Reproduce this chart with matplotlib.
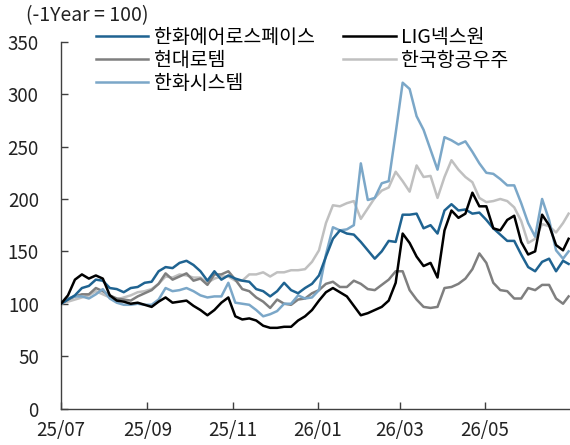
import matplotlib
matplotlib.use('Agg')
import matplotlib.pyplot as plt
import matplotlib.dates as mdates
import pandas as pd

plt.rcParams['font.family'] = ['Noto Sans CJK KR', 'DejaVu Sans']

# every 5 days from 2025-07-01, last point at month end
dates = list(pd.date_range('2025-07-01', periods=73, freq='5D')) + [pd.Timestamp('2026-06-30')]

hanwha_aero = [100, 104, 108, 115, 117, 123, 122, 115, 114, 111, 115, 116, 120, 121, 131, 135, 134, 139, 141, 137, 131, 122, 131,
               123, 127, 124, 122, 121, 114, 112, 107, 112, 120, 113, 110, 115, 119, 127, 145, 162, 170, 167, 166, 159, 151, 143, 150,
               160, 159, 185, 185, 186, 172, 175, 167, 189, 195, 189, 190, 186, 187, 180, 172, 166, 160, 160, 147, 135, 131, 140, 143, 131, 141, 138]
lig_nex1 = [100, 108, 123, 128, 124, 127, 124, 108, 103, 102, 100, 101, 99, 97, 102, 106, 101, 102, 103, 98, 94, 89, 94,
            101, 106, 88, 85, 86, 84, 79, 77, 77, 78, 78, 84, 88, 94, 103, 111, 115, 111, 107, 98, 89, 91, 94, 97,
            103, 120, 167, 158, 145, 136, 139, 125, 170, 189, 182, 186, 206, 193, 193, 172, 170, 180, 184, 159, 147, 150, 185, 175, 156, 151, 162]
hyundai_rotem = [100, 104, 107, 109, 109, 115, 112, 108, 105, 104, 103, 107, 110, 113, 119, 129, 123, 126, 129, 122, 124, 118, 128,
                 128, 131, 123, 114, 112, 106, 102, 96, 104, 100, 99, 104, 105, 110, 113, 119, 121, 116, 116, 122, 119, 114, 113, 118,
                 123, 131, 131, 113, 104, 97, 96, 97, 115, 116, 119, 124, 133, 148, 139, 120, 113, 112, 105, 105, 115, 113, 118, 118, 105, 100, 107]
kai = [100, 102, 104, 106, 108, 112, 109, 106, 104, 106, 108, 111, 112, 114, 119, 126, 125, 128, 127, 125, 125, 120, 124,
       126, 126, 122, 122, 128, 128, 130, 126, 130, 130, 132, 132, 133, 140, 151, 177, 194, 193, 196, 198, 181, 191, 201, 208,
       211, 226, 217, 207, 232, 221, 222, 201, 221, 237, 228, 221, 216, 201, 197, 198, 200, 198, 192, 179, 158, 162, 176, 174, 168, 177, 186]
hanwha_sys = [100, 105, 107, 107, 105, 109, 114, 105, 101, 99, 99, 100, 99, 99, 104, 115, 112, 113, 115, 112, 108, 106, 107,
              107, 120, 101, 100, 99, 94, 88, 90, 93, 100, 100, 108, 105, 106, 113, 147, 173, 170, 171, 175, 234, 199, 201, 215,
              217, 263, 311, 305, 279, 266, 247, 228, 259, 256, 252, 255, 245, 234, 225, 224, 219, 213, 213, 196, 177, 164, 200, 180, 151, 143, 150]

fig = plt.figure(figsize=(5.7, 4.45), dpi=100)
ax = fig.add_axes([0.107, 0.082, 0.893, 0.824])

lw = 1.8
l1, = ax.plot(dates, hanwha_aero, color='#1f6391', lw=lw, zorder=5, label='한화에어로스페이스')
l2, = ax.plot(dates, lig_nex1, color='#000000', lw=lw, zorder=6, label='LIG넥스원')
l3, = ax.plot(dates, hyundai_rotem, color='#7f7f7f', lw=lw, zorder=3, label='현대로템')
l4, = ax.plot(dates, kai, color='#c0c0c0', lw=lw, zorder=2, label='한국항공우주')
l5, = ax.plot(dates, hanwha_sys, color='#7ba7c8', lw=lw, zorder=4, label='한화시스템')

ax.set_ylim(0, 350)
ax.set_yticks(range(0, 351, 50))
ax.set_xlim(pd.Timestamp('2025-07-01'), pd.Timestamp('2026-07-01'))
ax.set_xticks([pd.Timestamp(d) for d in ['2025-07-01', '2025-09-01', '2025-11-01',
                                          '2026-01-01', '2026-03-01', '2026-05-01']])
ax.xaxis.set_major_formatter(mdates.DateFormatter('%y/%m'))

for s in ['top', 'right']:
    ax.spines[s].set_visible(False)
for s in ['left', 'bottom']:
    ax.spines[s].set_color('#404040')
    ax.spines[s].set_linewidth(1)
ax.tick_params(axis='both', direction='in', length=5, width=1, color='#404040',
               labelsize=13.5, labelcolor='#222222')
ax.tick_params(axis='y', pad=16)
ax.tick_params(axis='x', pad=8)

fig.text(0.045, 0.966, '(-1Year = 100)', fontsize=14, color='#222222', va='center')

fig.legend(handles=[l1, l3, l5, l2, l4], ncol=2, loc='upper left',
           bbox_to_anchor=(0.168, 0.94), frameon=False, fontsize=14,
           handlelength=2.7, handletextpad=0.3, columnspacing=1.45,
           labelspacing=0.1, borderpad=0, borderaxespad=0)

fig.savefig('out.png', dpi=100)
